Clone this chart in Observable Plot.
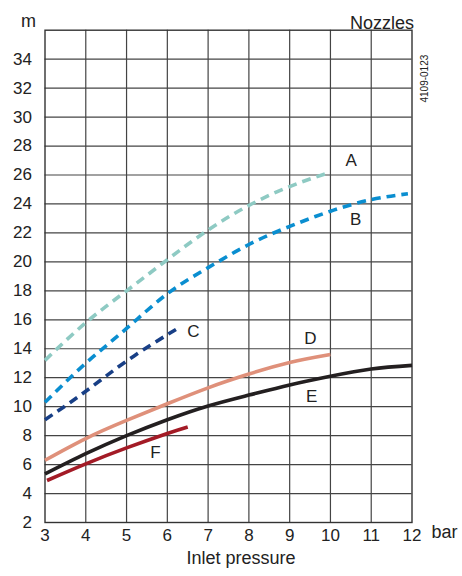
<!DOCTYPE html>
<html><head><meta charset="utf-8">
<script src="https://cdn.jsdelivr.net/npm/d3@7"></script>
<script src="https://cdn.jsdelivr.net/npm/@observablehq/plot@0.6"></script>
<style>body{margin:0;background:#fff;} svg{display:block;}</style>
</head><body><div id="chart"></div>
<script>
const xTicks = [3,4,5,6,7,8,9,10,11,12];
const yTicks = [2,4,6,8,10,12,14,16,18,20,22,24,26,28,30,32,34];
const yGrid = [4,6,8,10,12,14,16,18,20,22,24,26,28,30,32,34];

const seriesNames = ["A","B","C","D","E","F"];
const aX = [3,4,5,6,7,8,9,10];
const aY = [13.2,15.8,18.0,20.15,22.2,23.9,25.2,26.2];
const bX = [3,4,5,6,7,8,9,10,11,11.9];
const bY = [10.3,13.0,15.4,17.8,19.6,21.2,22.45,23.5,24.3,24.7];
const cX = [3,4,5,6,6.25];
const cY = [9.1,11.06,13.15,14.97,15.4];
const dX = [3,4,5,6,7,8,9,10];
const dY = [6.3,7.8,9.05,10.2,11.3,12.25,13.05,13.6];
const eX = [3,4,5,6,7,8,9,10,11,12];
const eY = [5.35,6.75,8.0,9.1,10.05,10.8,11.5,12.1,12.6,12.85];
const fX = [3.05,4,5,6,6.5];
const fY = [4.9,6.05,7.15,8.15,8.6];

const colors = {A:"#8ecac3", B:"#0a8ed0", C:"#183f86", D:"#df907a", E:"#231f20", F:"#a31b26"};
const dashed = {A:true, B:true, C:true, D:false, E:false, F:false};

const labelX = [10.51,10.62,6.64,9.51,9.54,5.71];
const labelY = [27.0,22.9,15.2,14.7,10.7,6.85];

const toRows = (name, xs, ys) => xs.map((x,i) => ({name, x, y: ys[i]}));
const seriesRows = {
  A: toRows("A", aX, aY), B: toRows("B", bX, bY), C: toRows("C", cX, cY),
  D: toRows("D", dX, dY), E: toRows("E", eX, eY), F: toRows("F", fX, fY)
};
const labels = seriesNames.map((n,i) => ({name:n, x:labelX[i], y:labelY[i]}));

const font = "'Liberation Sans', Arial, Helvetica, sans-serif";

const lineMarks = seriesNames.map(n => Plot.line(seriesRows[n], {
  x: "x", y: "y", stroke: colors[n], strokeWidth: 3.6,
  curve: "natural",
  strokeDasharray: dashed[n] ? "9,6" : null,
  strokeLinecap: "butt"
}));

const chart = Plot.plot({
  width: 462, height: 576,
  marginLeft: 44.5, marginRight: 50.5, marginTop: 29.7, marginBottom: 54,
  style: {fontFamily: font, fontSize: "17px", color: "#222", background: "#fff"},
  x: {domain: [3,12], ticks: xTicks},
  y: {domain: [2,36], ticks: yTicks},
  marks: [
    Plot.gridX(xTicks.slice(1,-1), {stroke: "#444", strokeOpacity: 1, strokeWidth: 1.2}),
    Plot.gridY(yGrid, {stroke: "#444", strokeOpacity: 1, strokeWidth: 1.2}),
    Plot.frame({stroke: "#333", strokeWidth: 1.4}),
    Plot.axisX(xTicks, {tickSize: 0, tickPadding: 6, fontSize: 17, label: null, fill: "#222"}),
    Plot.axisY(yTicks, {tickSize: 0, tickPadding: 13, fontSize: 17, label: null, fill: "#222"}),
    ...lineMarks,
    Plot.text(labels, {x: "x", y: "y", text: "name", fontSize: 17, fill: "#222"}),
    Plot.text(["m"], {frameAnchor: "top-left", dx: -16.5, dy: -15.5, textAnchor: "middle", fontSize: 18, fill: "#222"}),
    Plot.text(["Nozzles"], {frameAnchor: "top-right", dx: 2, dy: -13.5, textAnchor: "end", fontSize: 18, fill: "#222"}),
    Plot.text(["bar"], {frameAnchor: "bottom-right", dx: 19.5, dy: 15, textAnchor: "start", fontSize: 18, fill: "#222"}),
    Plot.text(["Inlet pressure"], {frameAnchor: "bottom", dx: 12.5, dy: 41, fontSize: 18, fill: "#222"}),
    Plot.text(["4109-0123"], {frameAnchor: "top-right", dx: 8.5, dy: 24.5, rotate: -90, fontSize: 10, fill: "#222"})
  ]
});
document.getElementById("chart").append(chart);
</script>
</body></html>
